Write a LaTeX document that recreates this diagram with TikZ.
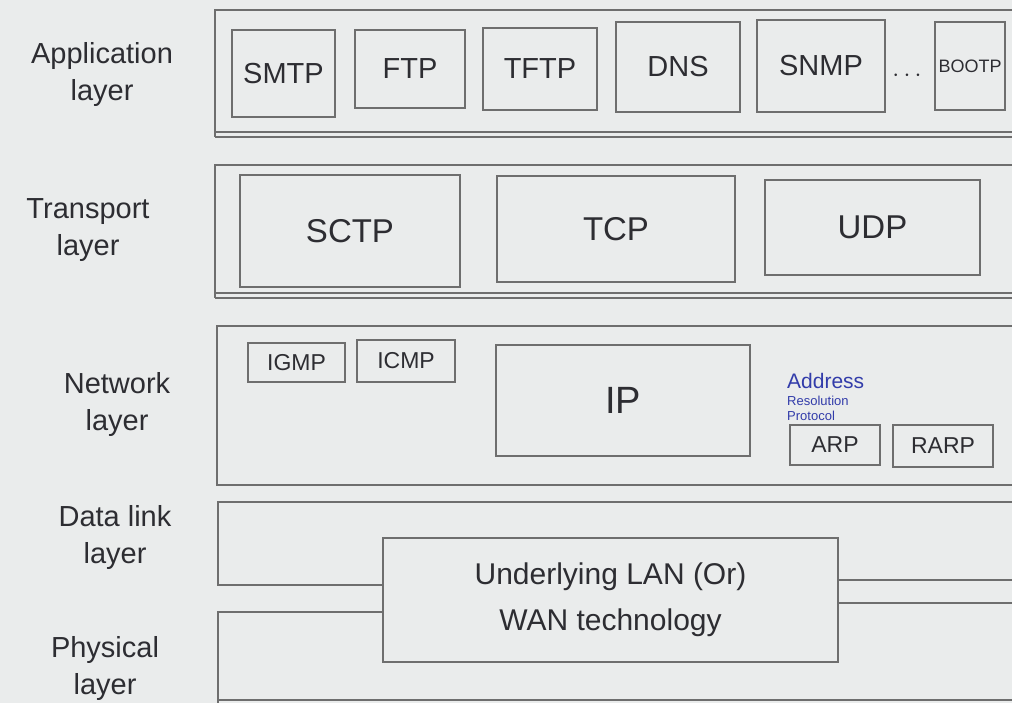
\documentclass[tikz,border=0pt]{standalone}
\usepackage{fontspec}
\setmainfont{Liberation Sans}
\definecolor{paper}{RGB}{234,236,236}
\definecolor{pencil}{RGB}{110,110,110}
\definecolor{ink}{RGB}{45,45,50}
\definecolor{blueink}{RGB}{50,60,170}
\begin{document}
\begin{tikzpicture}[x=1pt,y=-1pt,
  frame/.style={draw=pencil, line width=1.3pt},
  proto/.style={draw=pencil, line width=1.3pt, text=ink, inner sep=0pt,
    font=\fontsize{29}{32}\selectfont},
  bigproto/.style={proto, font=\fontsize{33}{36}\selectfont},
  smallproto/.style={proto, font=\fontsize{23}{26}\selectfont},
  layername/.style={text=ink, align=center, font=\fontsize{29}{37}\selectfont}]
\useasboundingbox (0,0) rectangle (1012,703);
\fill[paper] (0,0) rectangle (1012,703);

% layer names
\node[layername] (lapp) at (102,75) {Application\\layer};
\node[layername] (ltra) at (88,230) {Transport\\layer};
\node[layername] (lnet) at (117,405) {Network\\layer};
\node[layername] (ldat) at (115,537) {Data link\\layer};
\node[layername] (lphy) at (105,668) {Physical\\layer};

% application layer
\draw[frame] (1012,10) -- (215,10) -- (215,137);
\draw[frame] (215,132) -- (1012,132);
\draw[frame] (215,137) -- (1012,137);
\node[proto, minimum width=103, minimum height=87] (smtp) at (283.5,73.5) {SMTP};
\node[proto, minimum width=110, minimum height=78] (ftp) at (410,69) {FTP};
\node[proto, minimum width=114, minimum height=82] (tftp) at (540,69) {TFTP};
\node[proto, minimum width=124, minimum height=90] (dns) at (678,67) {DNS};
\node[proto, minimum width=128, minimum height=92] (snmp) at (821,66) {SNMP};
\node[text=ink, font=\fontsize{24}{26}\selectfont] (dots) at (907,76) {$\cdots$};
\node[proto, font=\fontsize{18}{20}\selectfont, minimum width=70, minimum height=88] (bootp) at (970,66) {BOOTP};

% transport layer
\draw[frame] (1012,165) -- (215,165) -- (215,298);
\draw[frame] (215,293) -- (1012,293);
\draw[frame] (215,298) -- (1012,298);
\node[bigproto, minimum width=220, minimum height=112] (sctp) at (350,231) {SCTP};
\node[bigproto, minimum width=238, minimum height=106] (tcp) at (616,229) {TCP};
\node[bigproto, minimum width=215, minimum height=95] (udp) at (872.5,227.5) {UDP};

% network layer
\draw[frame] (1012,326) -- (217,326) -- (217,485) -- (1012,485);
\node[smallproto, minimum width=97, minimum height=39] (igmp) at (296.5,362.5) {IGMP};
\node[smallproto, minimum width=98, minimum height=42] (icmp) at (406,361) {ICMP};
\node[proto, font=\fontsize{38}{40}\selectfont, minimum width=254, minimum height=111] (ip) at (623,400.5) {IP};
\node[smallproto, minimum width=90, minimum height=40] (arp) at (835,445) {ARP};
\node[smallproto, minimum width=100, minimum height=42] (rarp) at (943,446) {RARP};
\node[text=blueink, anchor=south west, align=left, inner sep=0pt,
  font=\fontsize{13}{15}\selectfont] (arpnote) at (787,421)
  {{\fontsize{21}{20}\selectfont Address}\\[2pt]Resolution\\Protocol};

% underlying technology shared by data link and physical layers
\node[proto, minimum width=455, minimum height=124, align=center,
  font=\fontsize{30}{46}\selectfont] (tech) at (610.5,600)
  {Underlying LAN (Or)\\WAN technology};
\coordinate (dlL) at (218,585);
\coordinate (phL) at (218,612);
\coordinate (dlR) at (1012,580);
\coordinate (phR) at (1012,603);
% data link layer
\draw[frame] (1012,502) -- (218,502) -- (dlL) -- (tech.west |- dlL);
\draw[frame] (tech.east |- dlR) -- (dlR);
% physical layer
\draw[frame] (tech.west |- phL) -- (phL) -- (218,703);
\draw[frame] (tech.east |- phR) -- (phR);
\draw[frame] (218,700) -- (1012,700);
\end{tikzpicture}
\end{document}
